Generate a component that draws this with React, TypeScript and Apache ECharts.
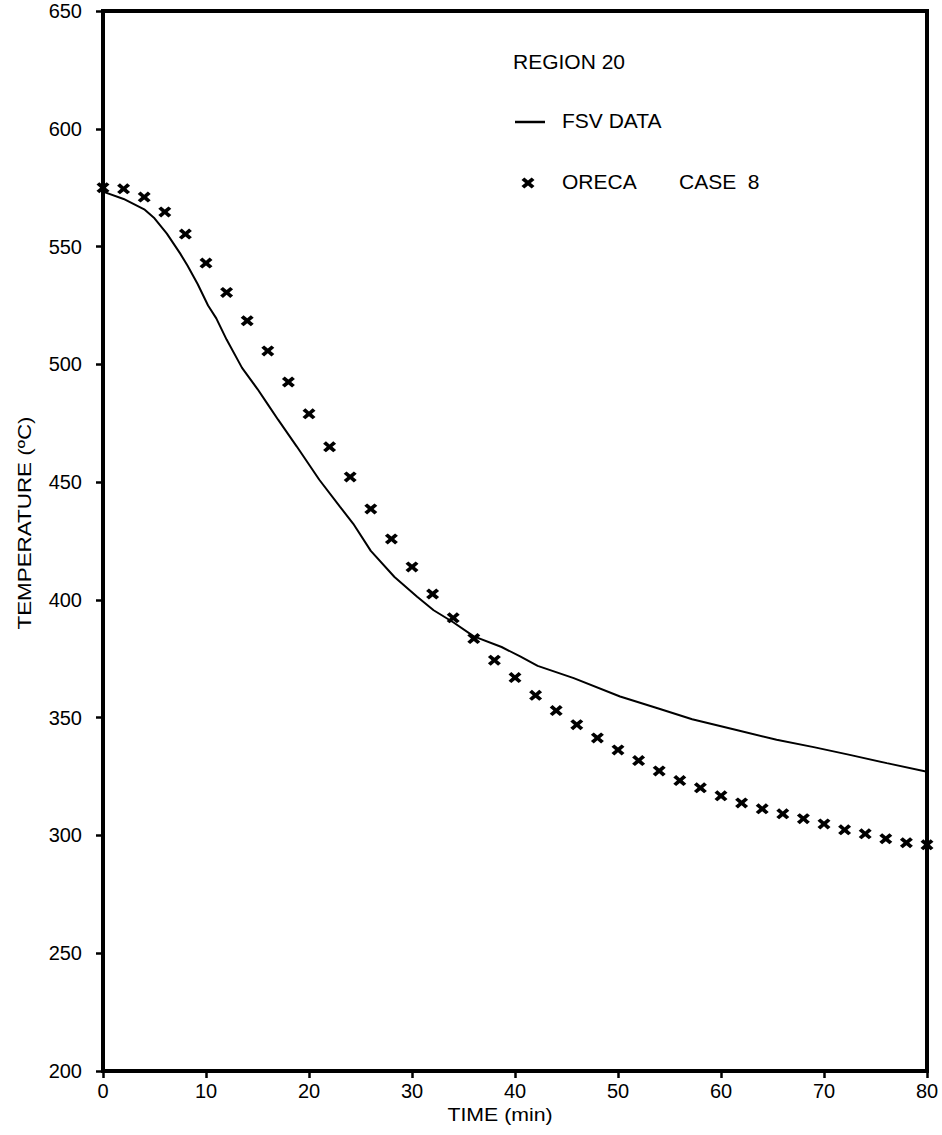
import React, { useEffect, useRef } from "react";
import * as echarts from "echarts";

// Measured FSV temperature trace (time in min, temperature in °C)
const fsvTime = [-1.6, 0, 2, 4, 5, 6.2, 7.5, 8.2, 9.2, 10.2, 11, 12, 13.5, 15, 16, 17, 18.8, 21, 23, 24.3, 26, 28.3, 30.5, 32.1, 34, 36, 38.7, 40.5, 42.2, 45.7, 50.2, 54, 57.2, 61.5, 65.4, 69, 72.5, 76.1, 80];
const fsvTemp = [575, 573.3, 570.2, 565.8, 562, 555.5, 547, 542, 534, 525, 519.5, 510.5, 498.5, 489.5, 483, 476.5, 465.2, 451, 439.6, 432.3, 420.8, 409.7, 401.3, 395.6, 390.5, 384.5, 380, 376, 372, 366.8, 359, 353.8, 349.3, 344.8, 340.6, 337.5, 334.2, 330.7, 327];

// ORECA case 8 calculation, every 2 min
const orecaTime = [0, 2, 4, 6, 8, 10, 12, 14, 16, 18, 20, 22, 24, 26, 28, 30, 32, 34, 36, 38, 40, 42, 44, 46, 48, 50, 52, 54, 56, 58, 60, 62, 64, 66, 68, 70, 72, 74, 76, 78, 80];
const orecaTemp = [575, 574.5, 571, 564.7, 555.3, 543, 530.5, 518.5, 505.7, 492.5, 479, 465, 452.2, 438.6, 425.9, 414, 402.5, 392.4, 383.6, 374.4, 367, 359.5, 353, 347, 341.4, 336.3, 331.8, 327.4, 323.3, 320.2, 316.8, 313.8, 311.3, 309.2, 307.1, 304.9, 302.4, 300.7, 298.6, 296.9, 296];

const xMin = 0;
const xMax = 80;
const xStep = 10;
const yMin = 200;
const yMax = 650;
const yStep = 50;

const xTitle = "TIME (min)";
const yTitle = "TEMPERATURE (ºC)";
const noteTitle = "REGION 20";
const fsvLabel = "FSV DATA";
const orecaLabel = "ORECA";
const caseLabel = "CASE  8";

const FONT = '"Liberation Sans", Arial, Helvetica, sans-serif';

// X-shaped marker outline on a 12x12 box (thick arms)
const crossPts: [number, number][] = [
  [0, 2.6], [2.6, 0], [6, 3.4], [9.4, 0], [12, 2.6], [8.6, 6],
  [12, 9.4], [9.4, 12], [6, 8.6], [2.6, 12], [0, 9.4], [3.4, 6],
];
const crossPath =
  "path://" +
  crossPts.map((p, i) => (i === 0 ? "M" : "L") + p[0] + "," + p[1]).join(" ") +
  " Z";

export default function App() {
  const ref = useRef<HTMLDivElement>(null);

  useEffect(() => {
    if (!ref.current) return;
    const chart = echarts.init(ref.current, null, { renderer: "svg" });

    const fsvData = fsvTime.map((t, i) => [t, fsvTemp[i]]);
    const orecaData = orecaTime.map((t, i) => [t, orecaTemp[i]]);

    const legendCross = crossPts.map((p) => [
      528 - 6.5 + (p[0] * 13) / 12,
      183 - 5.5 + (p[1] * 11) / 12,
    ]);

    const textStyle = (text: string, size: number) => ({
      text,
      fill: "#000",
      font: `${size}px ${FONT}`,
    });

    chart.setOption({
      animation: false,
      backgroundColor: "#fff",
      grid: {
        left: 103,
        right: 15,
        top: 11,
        bottom: 64,
        show: true,
        borderColor: "#000",
        borderWidth: 4,
        backgroundColor: "transparent",
      },
      xAxis: {
        type: "value",
        min: xMin,
        max: xMax,
        interval: xStep,
        axisLine: { show: true, lineStyle: { color: "#000", width: 4 } },
        axisTick: { show: true, length: 7, lineStyle: { color: "#000", width: 2.5 } },
        axisLabel: { margin: 10, fontSize: 20, color: "#000", fontFamily: FONT },
        splitLine: { show: false },
      },
      yAxis: {
        type: "value",
        min: yMin,
        max: yMax,
        interval: yStep,
        axisLine: { show: true, lineStyle: { color: "#000", width: 4 } },
        axisTick: { show: true, length: 7, lineStyle: { color: "#000", width: 2.5 } },
        axisLabel: { margin: 21, fontSize: 20, color: "#000", fontFamily: FONT },
        splitLine: { show: false },
      },
      series: [
        {
          name: fsvLabel,
          type: "line",
          data: fsvData,
          showSymbol: false,
          symbol: "none",
          clip: false,
          lineStyle: { color: "#000", width: 2 },
          z: 3,
        },
        {
          name: orecaLabel,
          type: "scatter",
          data: orecaData,
          symbol: crossPath,
          symbolSize: [13, 11],
          clip: false,
          itemStyle: { color: "#000", opacity: 1 },
          z: 4,
        },
      ],
      graphic: [
        {
          type: "text",
          x: 500,
          y: 1114,
          scaleX: 1.12,
          style: { ...textStyle(xTitle, 19), textAlign: "center", textVerticalAlign: "middle" },
        },
        {
          type: "text",
          x: 24,
          y: 523,
          rotation: Math.PI / 2,
          scaleX: 1.18,
          style: { ...textStyle(yTitle, 19), textAlign: "center", textVerticalAlign: "middle" },
        },
        {
          type: "text",
          x: 513,
          y: 61,
          style: { ...textStyle(noteTitle, 21), textAlign: "left", textVerticalAlign: "middle" },
        },
        {
          type: "line",
          shape: { x1: 515, y1: 122, x2: 545, y2: 122 },
          style: { stroke: "#000", lineWidth: 2.5 },
        },
        {
          type: "text",
          x: 562,
          y: 120,
          style: { ...textStyle(fsvLabel, 21), textAlign: "left", textVerticalAlign: "middle" },
        },
        {
          type: "polygon",
          shape: { points: legendCross },
          style: { fill: "#000" },
        },
        {
          type: "text",
          x: 562,
          y: 181,
          style: { ...textStyle(orecaLabel, 21), textAlign: "left", textVerticalAlign: "middle" },
        },
        {
          type: "text",
          x: 679,
          y: 181,
          style: { ...textStyle(caseLabel, 21), textAlign: "left", textVerticalAlign: "middle" },
        },
      ],
    });

    return () => chart.dispose();
  }, []);

  return (
    <div
      ref={ref}
      style={{ position: "fixed", left: 0, top: 0, width: 942, height: 1135, background: "#fff" }}
    />
  );
}
